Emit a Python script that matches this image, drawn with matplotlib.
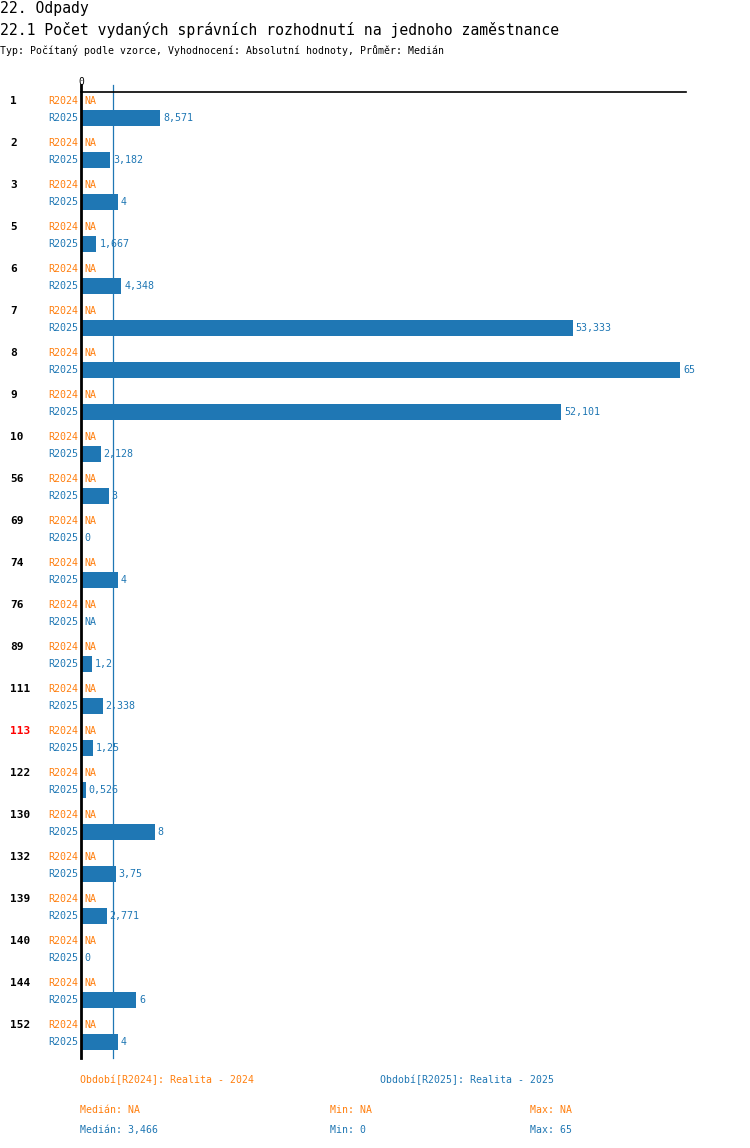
import numpy as np
import matplotlib
matplotlib.use("Agg")
import matplotlib.pyplot as plt

plt.rcParams['font.family'] = ['DejaVu Sans Mono']

groups = ['1', '2', '3', '5', '6', '7', '8', '9', '10', '56', '69', '74', '76', '89',
          '111', '113', '122', '130', '132', '139', '140', '144', '152']
r2024 = [None] * len(groups)
r2025 = [8.571, 3.182, 4, 1.667, 4.348, 53.333, 65, 52.101, 2.128, 3, 0, 4, None, 1.2,
         2.338, 1.25, 0.526, 8, 3.75, 2.771, 0, 6, 4]
highlight = ['113']

ORANGE = '#ff7f0e'
BLUE = '#1f77b4'
W, H = 750, 1148


def fmt(v):
    if v is None:
        return 'NA'
    s = ('%.3f' % v).rstrip('0').rstrip('.')
    return s.replace('.', ',')


fig = plt.figure(figsize=(W / 100, H / 100), dpi=100)
ax = fig.add_axes([81 / W, 1 - 1058 / H, 605 / W, (1058 - 92) / H])

step = 42.0
off = 17 / step
ax.set_ylim(957 / step, -9 / step)
ax.set_xlim(0, 605 / 9.22)

vals = [v for v in r2025 if v is not None]
med = float(np.median(vals))

for i, g in enumerate(groups):
    y1 = i
    y2 = i + off
    # skupina
    ax.annotate(g, xy=(0, y1), xycoords=ax.get_yaxis_transform(), xytext=(-71, 0),
                textcoords='offset pixels', ha='left', va='center', fontsize=8,
                fontweight='bold', color='red' if g in highlight else 'black')
    for y, v, c, name in [(y1, r2024[i], ORANGE, 'R2024'), (y2, r2025[i], BLUE, 'R2025')]:
        ax.annotate(name, xy=(0, y), xycoords=ax.get_yaxis_transform(), xytext=(-3, 0),
                    textcoords='offset pixels', ha='right', va='center', fontsize=7.2, color=c)
        if v is not None and v > 0:
            ax.barh(y, v, height=16 / step, color=c)
        ax.annotate(fmt(v), xy=(v if v is not None else 0, y), xytext=(3, 0),
                    textcoords='offset pixels', ha='left', va='center', fontsize=7.2, color=c)

ext = 1 + 7 / 966
ax.axvline(med, ymax=ext, color=BLUE, lw=0.9, zorder=0, clip_on=False)
ax.axvline(0, ymax=ext, color='black', lw=2, zorder=5, clip_on=False)

for s in ['right', 'bottom', 'left']:
    ax.spines[s].set_visible(False)
ax.spines['top'].set_linewidth(1.2)
ax.set_yticks([])
ax.xaxis.tick_top()
ax.set_xticks([0])
ax.set_xticklabels(['0'])
ax.tick_params(axis='x', length=0, pad=3.5, labelsize=7)

# nadpisy
fig.text(0, 1 - 8 / H, '22. Odpady', fontsize=10.6, va='center', ha='left')
fig.text(0, 1 - 30 / H, '22.1 Počet vydaných správních rozhodnutí na jednoho zaměstnance',
         fontsize=10.6, va='center', ha='left')
fig.text(0, 1 - 50 / H, 'Typ: Počítaný podle vzorce, Vyhodnocení: Absolutní hodnoty, Průměr: Medián',
         fontsize=7.1, va='center', ha='left')

# legenda a statistiky
fig.text(80 / W, 1 - 1080 / H, 'Období[R2024]: Realita - 2024', fontsize=7.1, color=ORANGE, va='center')
fig.text(380 / W, 1 - 1080 / H, 'Období[R2025]: Realita - 2025', fontsize=7.1, color=BLUE, va='center')

stats = [
    (1110, ORANGE, 'NA', 'NA', 'NA'),
    (1130, BLUE, fmt(med), fmt(min(vals)), fmt(max(vals))),
]
for yy, c, m, mn, mx in stats:
    fig.text(80 / W, 1 - yy / H, 'Medián: ' + m, fontsize=7.1, color=c, va='center')
    fig.text(330 / W, 1 - yy / H, 'Min: ' + mn, fontsize=7.1, color=c, va='center')
    fig.text(530 / W, 1 - yy / H, 'Max: ' + mx, fontsize=7.1, color=c, va='center')

fig.savefig('out.png', dpi=100)
